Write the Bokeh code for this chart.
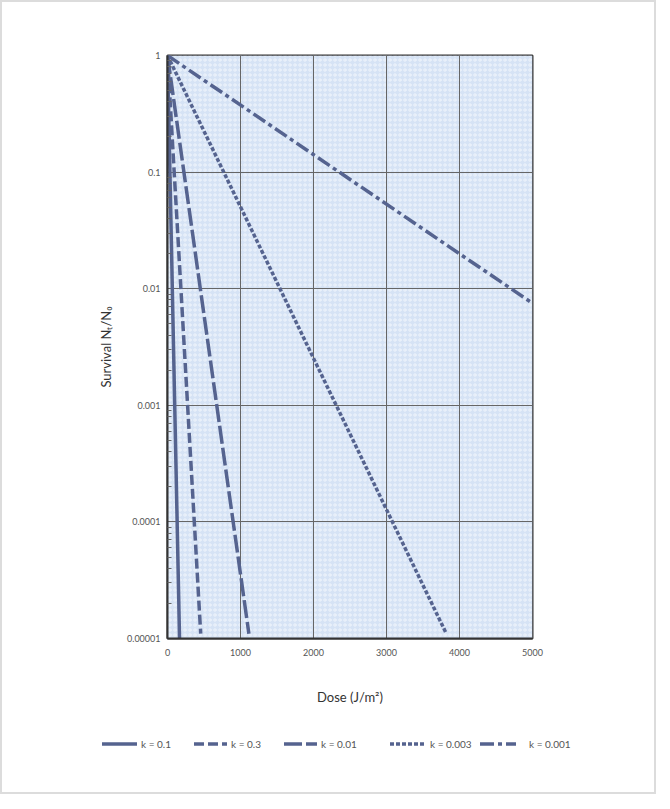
from bokeh.plotting import figure
from bokeh.layouts import column
from bokeh.models import FixedTicker, Div
from bokeh.embed import file_html
from bokeh.resources import INLINE

# Data (survival curves are straight on the log axis)
labels = ["k = 0.1", "k = 0.3", "k = 0.01", "k = 0.003", "k = 0.001"]
dose_start = [0, 0, 0, 0, 0]
surv_start = [1.0, 1.0, 1.0, 1.0, 1.0]
dose_end = [165, 455, 1115, 3820, 5000]
surv_end = [1e-5, 1.1e-5, 1.1e-5, 1.1e-5, 7.5e-3]
dashes = ["solid", "10 4", "18 4", "4 2", "14 4 4 4"]

x_ticks = [0, 1000, 2000, 3000, 4000, 5000]
x_tick_labels = ["0", "1000", "2000", "3000", "4000", "5000"]
y_ticks = [1e-5, 1e-4, 1e-3, 1e-2, 1e-1, 1]
y_tick_labels = ["0.00001", "0.0001", "0.001", "0.01", "0.1", "1"]

LINE = "#55638f"
FONT = "Lato"

p = figure(width=652, height=726, frame_width=365, frame_height=583,
           y_axis_type="log", x_range=(0, 5000), y_range=(1e-5, 1),
           output_backend="svg", toolbar_location=None,
           min_border_left=165, min_border_top=53, min_border_right=122,
           min_border_bottom=90)
p.background_fill_color = "#d6e3f5"
p.border_fill_color = "white"
p.outline_line_color = "#333333"
p.outline_line_width = 2

# textured background
p.quad(left=[x_ticks[0]], right=[x_ticks[-1]], bottom=[y_ticks[0]], top=[y_ticks[-1]],
       fill_color="#d6e3f5", line_color=None, level="image",
       hatch_pattern="ring", hatch_color="white", hatch_alpha=0.7,
       hatch_scale=5, hatch_weight=0.8)

for i in range(len(labels)):
    p.line([dose_start[i], dose_end[i]], [surv_start[i], surv_end[i]],
           line_color=LINE, line_width=3.5, line_dash=dashes[i])

p.xaxis.ticker = FixedTicker(ticks=x_ticks)
p.xaxis.major_label_overrides = {t: l for t, l in zip(x_ticks, x_tick_labels)}
p.yaxis.ticker = FixedTicker(ticks=y_ticks, minor_ticks=[m * d for d in y_ticks[:-1] for m in range(2, 10)])
p.yaxis.major_label_overrides = {t: l for t, l in zip(y_ticks, y_tick_labels)}

for ax in (p.xaxis, p.yaxis):
    ax.axis_line_color = "#333333"
    ax.axis_line_width = 2
    ax.major_tick_out = 0
    ax.major_tick_in = 0
    ax.minor_tick_out = 0
    ax.major_label_text_font = FONT
    ax.major_label_text_font_size = "9px"
    ax.major_label_text_color = "#555555"
    ax.axis_label_text_font = FONT
    ax.axis_label_text_font_size = "13px"
    ax.axis_label_text_font_style = "normal"
    ax.axis_label_text_color = "#333333"
p.xaxis.minor_tick_in = 0
p.yaxis.minor_tick_in = 4
p.yaxis.minor_tick_line_color = "#666666"
p.xaxis.major_label_standoff = 10
p.yaxis.major_label_standoff = 7
p.xaxis.axis_label = "Dose (J/m²)"
p.yaxis.axis_label = "Survival Nₜ/N₀"
p.xaxis.axis_label_standoff = 30
p.yaxis.axis_label_standoff = 10

p.xgrid.ticker = FixedTicker(ticks=x_ticks)
p.ygrid.ticker = FixedTicker(ticks=y_ticks)
p.grid.grid_line_color = "#666666"
p.grid.grid_line_width = 1

# legend strip below the chart (line samples + labels)
item_left = [100, 192, 282, 388, 478]
sample_w = [35, 33, 33, 36, 36]
text_gap = [4, 4, 4, 4, 13]
parts = []
for i in range(len(labels)):
    dash = "" if dashes[i] == "solid" else f' stroke-dasharray="{dashes[i]}"'
    parts.append(
        f'<div style="position:absolute;left:{item_left[i]}px;top:10px;display:flex;align-items:center;white-space:nowrap;">'
        f'<svg width="{sample_w[i]}" height="10" style="display:block">'
        f'<line x1="0" y1="5" x2="{sample_w[i]}" y2="5" stroke="{LINE}" stroke-width="3.5"{dash}/></svg>'
        f'<span style="margin-left:{text_gap[i]}px;font-family:{FONT};font-size:10px;color:#555555;line-height:12px;">{labels[i]}</span>'
        f'</div>')
legend_html = '<div style="position:relative;width:652px;height:64px;">' + "".join(parts) + "</div>"
lg = Div(text=legend_html, width=652, height=64, margin=0)

layout = column(p, lg, spacing=0)
layout.styles = {"border": "2px solid #dcdcdc"}

open("out.html", "w").write(file_html(layout, INLINE))
